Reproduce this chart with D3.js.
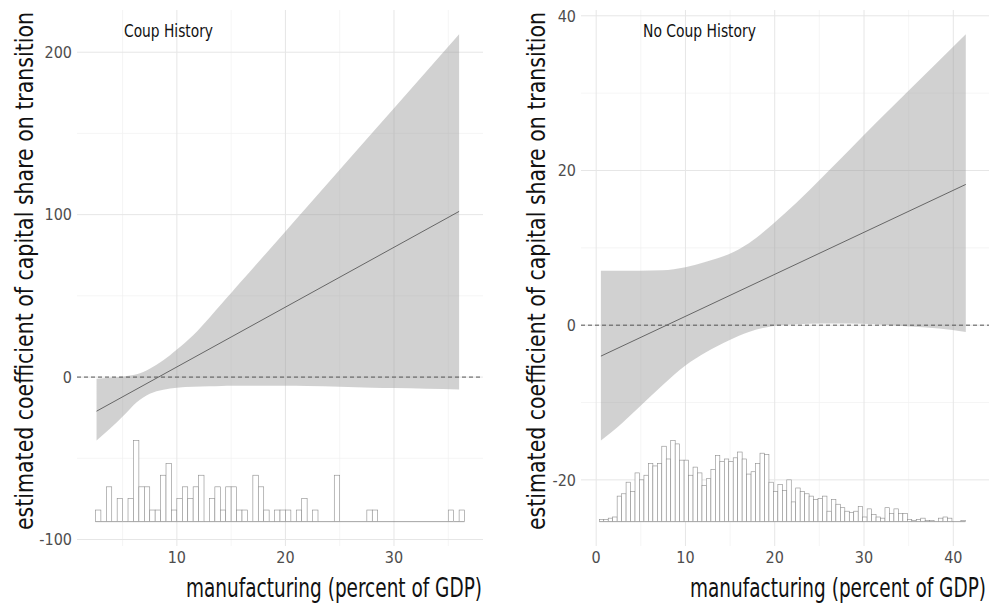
<!DOCTYPE html>
<html>
<head>
<meta charset="utf-8">
<title>Capital share and manufacturing</title>
<script src="https://cdnjs.cloudflare.com/ajax/libs/d3/7.8.5/d3.min.js"></script>
<style>
    body { margin:0; background:white; }
    svg text {
        font-family: "Liberation Sans Narrow", "DejaVu Sans Condensed", "Roboto Condensed", "Liberation Sans", sans-serif;
        font-stretch: condensed;
    }
</style>
</head>
<body>
<svg id="chart" width="989" height="604"></svg>
<script>
// values

// Coup History panel
var coupBandX     = [2.6, 3.8, 5.1, 6.3, 7.5, 8.75, 10, 11.5, 13, 14.1, 15.1, 16, 18, 20, 22, 25, 28, 30, 33, 36];
var coupBandLower = [-39, -32, -23.7, -15.5, -10.3, -7.8, -6.6, -6.0, -5.7, -5.5, -5.4, -5.3, -5.3, -5.4, -5.5, -6.0, -6.5, -6.8, -7.2, -7.6];
var coupBandUpper = [-1, -0.4, 0.4, 1.7, 5.2, 10.3, 17, 25.8, 36.6, 45, 52.5, 59.4, 74.5, 89.7, 104.8, 127.6, 150.4, 165.5, 188.3, 211];
var coupLineX = [2.6, 36];
var coupLineY = [-21, 102];
var coupHistStart = 2.5;
var coupHistCounts = [1,0,3,0,2,0,2,7,3,3, 1,1,4,5,1,2,3,2,3,4, 0,2,3,1,3,3,1,1,0,4,
                      3,1,0,1,1,1,0,1,2,0, 1,0,0,0,4,0,0,0,0,0, 1,1,0,0,0,0,0,0,0,0,
                      0,0,0,0,0,1,0,1];
var coupXTicks = [10, 20, 30];
var coupYTicks = [-100, 0, 100, 200];

// No Coup History panel
var noCoupBandX     = [0.53, 2.95, 4.8, 7.4, 10, 12.3, 14.9, 17.1, 19.7, 22.4, 25.3, 28.3, 31.3, 34.7, 38.4, 41.4];
var noCoupBandLower = [-14.9, -12.6, -10.6, -7.8, -5.2, -3.5, -1.95, -0.87, -0.13, 0.13, 0.22, 0.22, 0.13, -0.13, -0.43, -0.87];
var noCoupBandUpper = [7.05, 7.05, 7.05, 7.1, 7.5, 8.2, 9.2, 10.6, 13.0, 15.8, 19.1, 22.6, 26.1, 30.0, 34.2, 37.6];
var noCoupLineX = [0.53, 41.4];
var noCoupLineY = [-4.0, 18.2];
var noCoupHistStart = 0.35;
var noCoupHistCounts = [2,2,3,4,22,24,34,26,42,36, 40,50,48,50,65,54,70,67,53,53,
                        40,47,42,31,37,45,57,52,54,52, 55,60,54,41,43,50,59,58,34,26,
                        32,27,36,17,29,26,24,22,19,20, 22,9,19,15,12,9,8,9,13,4,
                        11,6,4,3,12,7,11,7,7,2, 1,2,3,1,1,0,3,4,3,0, 0,1];
var noCoupXTicks = [0, 10, 20, 30, 40];
var noCoupYTicks = [-20, 0, 20, 40];

var histBinWidth = 0.5;
var xTitle = 'manufacturing (percent of GDP)';
var yTitle = 'estimated coefficient of capital share on transition';

var svg = d3.select('#chart');
var plotTop = 10, plotBottom = 546;

function drawPanel(p) {
    var g = svg.append('g');

    // histogram sits under the band, one fifth of the band's range tall
    var bandMin = d3.min(p.lower), bandMax = d3.max(p.upper);
    var histHeight = (bandMax - bandMin) / 5;
    var histBase = bandMin - histHeight;
    var pad = (bandMax - histBase) * 0.05;

    var x = d3.scaleLinear().domain(p.xDomain).range([p.left, p.right]);
    var y = d3.scaleLinear().domain([histBase - pad, bandMax + pad]).range([plotBottom, plotTop]);
    var h = d3.scaleLinear().domain([0, d3.max(p.counts)]).range([histBase, bandMin]);

    // grid: minor lines halfway between the major ones
    var xStep = p.xTicks[1] - p.xTicks[0], yStep = p.yTicks[1] - p.yTicks[0];
    var xMinor = d3.range(Math.floor(p.xDomain[0] / xStep) * xStep + xStep / 2, p.xDomain[1], xStep)
        .filter(function(d) { return d > p.xDomain[0]; });
    var yMinor = d3.range(p.yTicks[0] - yStep / 2, y.domain()[1], yStep)
        .filter(function(d) { return d > y.domain()[0]; });

    g.selectAll('.vminor').data(xMinor).enter().append('line')
        .attr('x1', x).attr('x2', x).attr('y1', plotTop).attr('y2', plotBottom)
        .attr('stroke', '#f0f0f0').attr('stroke-width', 0.7);
    g.selectAll('.hminor').data(yMinor).enter().append('line')
        .attr('x1', p.left).attr('x2', p.right).attr('y1', y).attr('y2', y)
        .attr('stroke', '#f0f0f0').attr('stroke-width', 0.7);
    g.selectAll('.vmajor').data(p.xTicks).enter().append('line')
        .attr('x1', x).attr('x2', x).attr('y1', plotTop).attr('y2', plotBottom)
        .attr('stroke', '#e6e6e6').attr('stroke-width', 1);
    g.selectAll('.hmajor').data(p.yTicks).enter().append('line')
        .attr('x1', p.left).attr('x2', p.right).attr('y1', y).attr('y2', y)
        .attr('stroke', '#e6e6e6').attr('stroke-width', 1);

    // confidence band
    var band = p.bandX.map(function(d, i) { return {x: d, lo: p.lower[i], hi: p.upper[i]}; });
    var area = d3.area()
        .x(function(d) { return x(d.x); })
        .y0(function(d) { return y(d.lo); })
        .y1(function(d) { return y(d.hi); })
        .curve(d3.curveMonotoneX);
    g.append('path').datum(band).attr('d', area)
        .attr('fill', '#999').attr('fill-opacity', 0.45);

    // zero reference
    g.append('line')
        .attr('x1', p.left).attr('x2', p.right).attr('y1', y(0)).attr('y2', y(0))
        .attr('stroke', '#555').attr('stroke-width', 1).attr('stroke-dasharray', '4,3');

    // estimate line
    var line = d3.line().x(function(d) { return x(d[0]); }).y(function(d) { return y(d[1]); });
    g.append('path').datum(d3.zip(p.lineX, p.lineY)).attr('d', line)
        .attr('fill', 'none').attr('stroke', '#666').attr('stroke-width', 1);

    // histogram of the moderator; empty bins still leave the base line
    var histEnd = p.histStart + p.counts.length * histBinWidth;
    g.append('line')
        .attr('x1', x(p.histStart)).attr('x2', x(histEnd))
        .attr('y1', y(histBase)).attr('y2', y(histBase))
        .attr('stroke', '#8c8c8c').attr('stroke-width', 0.8);
    g.selectAll('.bin').data(p.counts).enter().append('rect')
        .attr('x', function(d, i) { return x(p.histStart + i * histBinWidth); })
        .attr('width', function(d, i) { return x(p.histStart + (i + 1) * histBinWidth) - x(p.histStart + i * histBinWidth); })
        .attr('y', function(d) { return y(h(d)); })
        .attr('height', function(d) { return y(histBase) - y(h(d)); })
        .attr('fill', 'white').attr('stroke', '#8c8c8c').attr('stroke-width', 0.6);

    // tick labels
    g.selectAll('.ylab').data(p.yTicks).enter().append('text')
        .attr('x', p.left - 5).attr('y', y).attr('dy', '0.36em')
        .attr('text-anchor', 'end').attr('font-size', 16).attr('fill', '#4d4d4d')
        .text(function(d) { return d; });
    g.selectAll('.xlab').data(p.xTicks).enter().append('text')
        .attr('x', x).attr('y', 563)
        .attr('text-anchor', 'middle').attr('font-size', 16).attr('fill', '#4d4d4d')
        .text(function(d) { return d; });

    // titles
    g.append('text')
        .attr('x', p.xTitleEnd).attr('y', 597)
        .attr('text-anchor', 'end').attr('font-size', 27).attr('fill', '#111')
        .attr('textLength', 296).attr('lengthAdjust', 'spacingAndGlyphs')
        .text(xTitle);
    g.append('text')
        .attr('transform', 'translate(' + p.yTitleX + ',' + 12 + ') rotate(-90)')
        .attr('text-anchor', 'end').attr('font-size', 24).attr('fill', '#111')
        .attr('textLength', 518).attr('lengthAdjust', 'spacingAndGlyphs')
        .text(yTitle);
    g.append('text')
        .attr('x', p.titleX).attr('y', 37)
        .attr('font-size', 18).attr('fill', '#111')
        .attr('textLength', p.titleWidth).attr('lengthAdjust', 'spacingAndGlyphs')
        .text(p.title);
}

drawPanel({
    title: 'Coup History', titleX: 124, titleWidth: 89,
    left: 77, right: 483, yTitleX: 33, xTitleEnd: 482,
    xDomain: [0.8, 38.2],
    bandX: coupBandX, lower: coupBandLower, upper: coupBandUpper,
    lineX: coupLineX, lineY: coupLineY,
    histStart: coupHistStart, counts: coupHistCounts,
    xTicks: coupXTicks, yTicks: coupYTicks
});

drawPanel({
    title: 'No Coup History', titleX: 643, titleWidth: 113,
    left: 581, right: 989, yTitleX: 545, xTitleEnd: 986,
    xDomain: [-1.7, 44.0],
    bandX: noCoupBandX, lower: noCoupBandLower, upper: noCoupBandUpper,
    lineX: noCoupLineX, lineY: noCoupLineY,
    histStart: noCoupHistStart, counts: noCoupHistCounts,
    xTicks: noCoupXTicks, yTicks: noCoupYTicks
});
</script>
</body>
</html>
